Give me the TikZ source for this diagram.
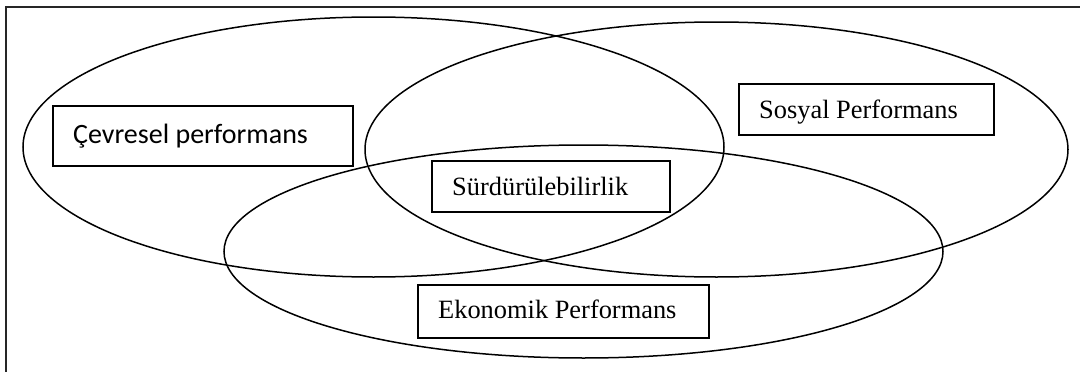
\documentclass[tikz,border=0pt]{standalone}
\usepackage{fontspec}
\setmainfont{Liberation Serif}
\newfontfamily\calibfont{Carlito}
\usetikzlibrary{shapes.geometric}

\tikzset{
  ring/.style={draw=black, line width=1.5pt, ellipse, inner sep=0pt, fill=none},
  tbox/.style={draw=black, line width=1.6pt, rectangle, inner sep=0pt, anchor=north west, fill=none},
  lbl/.style={anchor=base west, inner sep=0pt, font=\fontsize{26.4}{30}\selectfont},
  lblsans/.style={anchor=base west, inner sep=0pt, font=\calibfont\fontsize{28}{32}\selectfont},
  frame/.style={draw=black!85, line width=2pt}
}

\begin{document}
\begin{tikzpicture}[x=1pt, y=-1pt]
  \useasboundingbox (0,0) rectangle (1080,372);

  % outer frame (top and left edges)
  \coordinate (fbl) at (6,372);
  \coordinate (ftl) at (6,7);
  \coordinate (ftr) at (1080,7);
  \draw[frame] (fbl) -- (ftl) -- (ftr);

  % the three overlapping ellipses
  \node[ring, minimum width=701pt, minimum height=260pt] (cev) at (373.5,147) {};
  \node[ring, minimum width=703pt, minimum height=255pt] (sos) at (716.5,149.5) {};
  \node[ring, minimum width=719pt, minimum height=213pt] (eko) at (583.5,251.5) {};

  % label boxes
  \node[tbox, minimum width=300pt, minimum height=60pt] (bcev) at (52,105) {};
  \node[lblsans, xshift=21pt, yshift=-38pt] (tcev) at (bcev.north west) {Çevresel performans};

  \node[tbox, minimum width=255pt, minimum height=51pt] (bsos) at (738,83) {};
  \node[lbl, xshift=21pt, yshift=-35pt] (tsos) at (bsos.north west) {Sosyal Performans};

  \node[tbox, minimum width=238pt, minimum height=51pt] (bsur) at (431,160) {};
  \node[lbl, xshift=21pt, yshift=-35pt] (tsur) at (bsur.north west) {Sürdürülebilirlik};

  \node[tbox, minimum width=291pt, minimum height=53pt] (beko) at (417,284) {};
  \node[lbl, xshift=21pt, yshift=-34pt] (teko) at (beko.north west) {Ekonomik Performans};
\end{tikzpicture}
\end{document}
